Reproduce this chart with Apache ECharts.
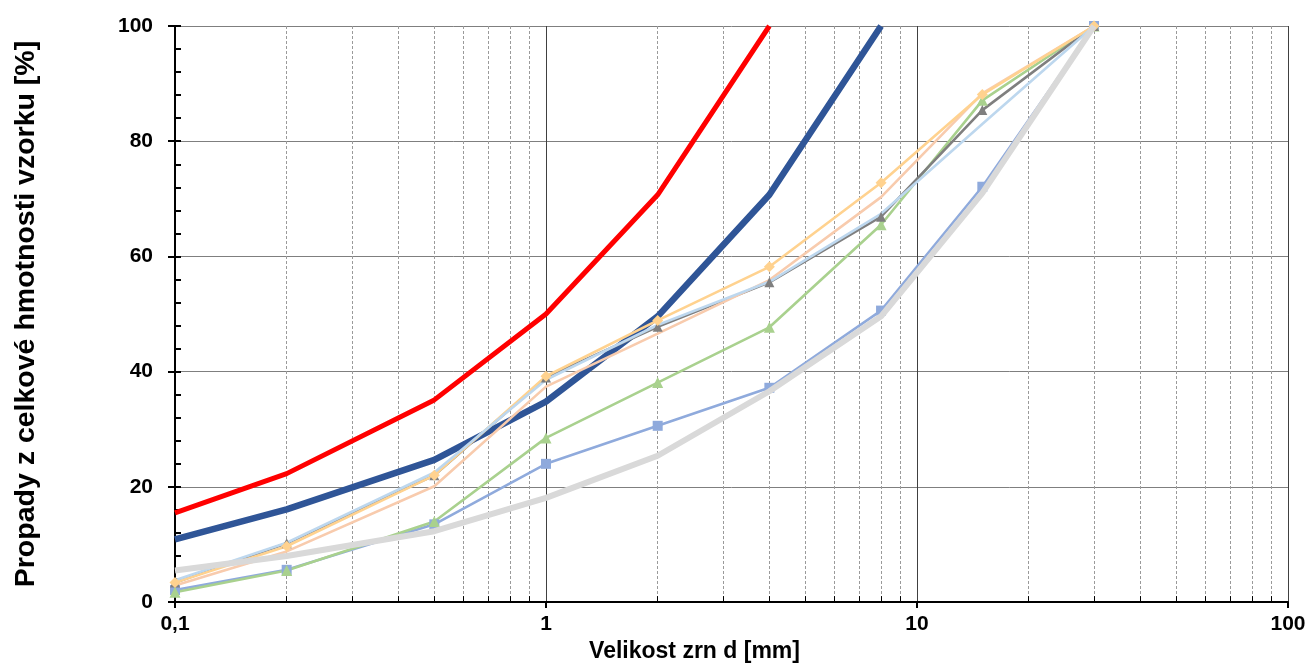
<!DOCTYPE html>
<html>
<head>
<meta charset="utf-8">
<script src="https://cdn.jsdelivr.net/npm/echarts@6/dist/echarts.min.js"></script>
<style>
html,body{margin:0;padding:0;background:#fff;}
#chart{width:1312px;height:668px;}
</style>
</head>
<body>
<div id="chart"></div>
<script>
// Sieve sizes [mm]
const sizes = [0.1, 0.2, 0.5, 1, 2, 4, 8, 15, 30];
// Grading curves - passing [%]
const redLimit   = [15.5, 22.3, 35.1, 50.0, 70.7, 100];
const blueLimit  = [10.9, 16.1, 24.7, 34.8, 49.6, 70.7, 100];
const grayLimit  = [5.5, 8.0, 12.3, 18.1, 25.4, 36.6, 49.6, 71.0, 100];
const sampleSq   = [2.1, 5.6, 13.5, 24.0, 30.6, 37.2, 50.6, 72.1, 100];
const sampleGrn  = [1.7, 5.5, 14.0, 28.5, 38.1, 47.7, 65.5, 87.1, 100];
const sampleDkG  = [3.4, 10.2, 22.0, 39.0, 47.8, 55.5, 66.9, 85.4, 100];
const sampleOra  = [3.4, 9.7, 22.0, 39.2, 48.9, 58.2, 72.8, 88.1, 100];
const sampleSal  = [2.9, 8.8, 20.1, 37.4, 46.6, 55.9, 70.3, 88.3, 100];
const sampleLtB  = [3.8, 10.3, 22.5, 38.6, 48.1, 55.6, 67.4, 83.0, 100];
// Axis ticks
const xMinorTicks = [0.2,0.3,0.4,0.5,0.6,0.7,0.8,0.9,2,3,4,5,6,7,8,9,20,30,40,50,60,70,80,90];

function pairs(vals){ return vals.map((v,i)=>[sizes[i], v]); }

const FONT = 'Liberation Sans, Arial, sans-serif';
const chart = echarts.init(document.getElementById('chart'));

function line(name, vals, color, width, symbol, symSize, z){
  return {
    name, type:'line', data: pairs(vals), xAxisIndex:0, yAxisIndex:0,
    lineStyle:{color, width}, itemStyle:{color},
    symbol: symbol || 'none', symbolSize: symSize || 0, showSymbol: !!symbol,
    z: z, animation:false, emphasis:{disabled:true}
  };
}

chart.setOption({
  animation:false,
  grid:{left:175, right:24, top:26, bottom:65, containLabel:false},
  xAxis:[{
    type:'log', logBase:10, min:0.1, max:100,
    name:'Velikost zrn d [mm]', nameLocation:'middle', nameGap:36,
    nameTextStyle:{color:'#000', fontSize:23, fontWeight:'bold', fontFamily:FONT, padding:[0,74,0,0]},
    axisLine:{show:true, lineStyle:{color:'#000', width:2}},
    axisTick:{show:true, inside:false, length:6, lineStyle:{color:'#000', width:2}},
    axisLabel:{color:'#000', fontSize:21, fontWeight:'bold', fontFamily:FONT, margin:12,
      formatter: v => String(Math.round(v*10)/10).replace('.', ',')},
    splitLine:{show:true, lineStyle:{color:'#404040', width:1}}
  },{
    type:'log', logBase:10, min:0.1, max:100, position:'bottom',
    axisLine:{show:false},
    axisLabel:{show:false},
    axisTick:{show:true, inside:true, length:6, customValues:xMinorTicks, lineStyle:{color:'#000', width:1}},
    splitLine:{show:true, lineStyle:{color:'#9a9a9a', width:1, type:[3,2]}}
  }],
  yAxis:[{
    type:'value', min:0, max:100, interval:20,
    name:'Propady z celkové hmotnosti vzorku [%]', nameLocation:'middle', nameGap:134, nameRotate:90,
    nameTextStyle:{color:'#000', fontSize:28.5, fontWeight:'bold', fontFamily:FONT},
    axisLine:{show:true, lineStyle:{color:'#000', width:2}},
    axisTick:{show:true, inside:false, length:7, lineStyle:{color:'#000', width:2}},
    axisLabel:{color:'#000', fontSize:21, fontWeight:'bold', fontFamily:FONT, margin:22},
    splitLine:{show:true, lineStyle:{color:'#7f7f7f', width:1}}
  },{
    type:'value', min:0, max:100, interval:4, position:'left',
    axisLine:{show:false}, axisLabel:{show:false},
    axisTick:{show:true, inside:true, length:6, lineStyle:{color:'#000', width:2}},
    splitLine:{show:false}
  }],
  series:[
    line('červená', redLimit, '#ff0000', 5, null, 0, 3),
    line('modrá', blueLimit, '#2f5597', 6.5, null, 0, 3),
    line('vzorek 1', sampleSq, '#8faadc', 2.6, 'rect', 10, 4),
    line('vzorek 2', sampleGrn, '#a9d18e', 2.6, 'triangle', 11, 4),
    line('vzorek 3', sampleDkG, '#7f7f7f', 2.6, 'triangle', 10, 4),
    line('vzorek 4', sampleSal, '#f8cbad', 2.6, null, 0, 4),
    line('vzorek 5', sampleOra, '#ffd28f', 2.6, 'diamond', 11, 4),
    line('vzorek 6', sampleLtB, '#bdd7ee', 2.6, null, 0, 4),
    line('šedá', grayLimit, '#d9d9d9', 6, null, 0, 5)
  ]
});
</script>
</body>
</html>
